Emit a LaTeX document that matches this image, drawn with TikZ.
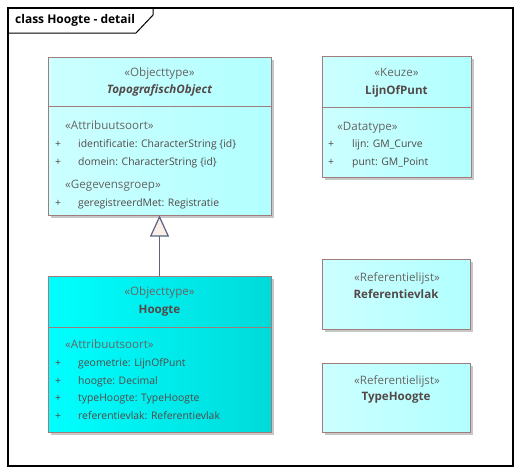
\documentclass[tikz,border=0pt]{standalone}
\usepackage{fontspec}
\setmainfont{Open Sans}
\usetikzlibrary{shadows,arrows.meta,positioning,calc}
\definecolor{boxline}{RGB}{160,124,124}
\definecolor{genline}{RGB}{90,100,128}
\definecolor{txtdark}{RGB}{84,72,72}
\definecolor{txtster}{RGB}{104,100,100}
\definecolor{lightcyan}{RGB}{204,255,255}
\definecolor{lightcyanr}{RGB}{178,255,255}
\definecolor{cyanl}{RGB}{0,255,255}
\definecolor{cyanr}{RGB}{0,218,218}
\definecolor{tipfill}{RGB}{250,238,232}

\begin{document}
\begin{tikzpicture}
[x=1pt,y=-1pt,font=\fontsize{10.4}{13}\selectfont,
    cls/.style={draw=boxline,line width=1pt,inner sep=0pt,
    left color=lightcyan,right color=lightcyanr,
    drop shadow={opacity=1,fill=black!22,shadow xshift=3pt,shadow yshift=-3pt}},
    clsdark/.style={cls,left color=cyanl,right color=cyanr},
    stereo/.style={text=txtster,inner sep=0pt,font=\fontsize{11.6}{14}\selectfont,
    text height=9pt,text depth=3pt},
    cname/.style={text=txtdark,inner sep=0pt,font=\fontsize{11.6}{14}\selectfont\bfseries,
    text height=9pt,text depth=3pt},
    attr/.style={anchor=west,text=txtdark,inner sep=0pt,text height=9pt,text depth=3pt},
    sep/.style={draw=boxline,line width=1pt},
    gen/.style={draw=genline,line width=1.2pt,
    -{Triangle[length=21pt,width=19pt,fill=tipfill]}}]
\useasboundingbox (0,0) rectangle (521,475);
%%%%%%%%%%
%% frame
\draw[line width=1.2pt] (8,8) rectangle (513,466);
\draw[line width=1pt] (8,33) -- (136,33) -- (153,15) -- (153,8);
\node (title) [anchor=west,inner sep=0pt,font=\fontsize{12}{14}\selectfont\bfseries]
at (15,20) {class Hoogte - detail};
%% boxes
\node (topo) [cls,minimum width=223pt,minimum height=158pt] at (159.5,136) {};
\node (hoogte) [clsdark,minimum width=223pt,minimum height=156pt] at (159.5,354) {};
\node (lijn) [cls,minimum width=149pt,minimum height=121pt] at (396.5,116.5) {};
\node (refvlak) [cls,minimum width=148pt,minimum height=70pt] at (396,294) {};
\node (typeh) [cls,minimum width=148pt,minimum height=69pt] at (396,397.5) {};
%% compartments
\draw[sep] (topo.west |- 0,106) -- (topo.east |- 0,106);
\draw[sep] (hoogte.west |- 0,327) -- (hoogte.east |- 0,327);
\draw[sep] (lijn.west |- 0,107) -- (lijn.east |- 0,107);
%% TopografischObject
\node (topost) [stereo] at (159.5,73) {«Objecttype»};
\node (toponame) [cname,font=\fontsize{11.6}{14}\selectfont\bfseries\itshape] at (159.5,90) {TopografischObject};
\node (topoas) [attr,stereo] at (65,126) {«Attribuutsoort»};
\node (topop1) [attr] at (55,144) {+};
\node (topoa1) [attr] at (78,144) {identificatie: CharacterString \{id\}};
\node (topop2) [attr] at (55,162) {+};
\node (topoa2) [attr] at (78,162) {domein: CharacterString \{id\}};
\node (topogg) [attr,stereo] at (65,185) {«Gegevensgroep»};
\node (topop3) [attr] at (55,203) {+};
\node (topoa3) [attr] at (78,203) {geregistreerdMet: Registratie};
%% Hoogte
\node (hoogtest) [stereo] at (159.5,292) {«Objecttype»};
\node (hoogtename) [cname] at (159.5,310) {Hoogte};
\node (hoogteas) [attr,stereo] at (65,345) {«Attribuutsoort»};
\node (hoogtep1) [attr] at (55,363) {+};
\node (hoogtea1) [attr] at (78,363) {geometrie: LijnOfPunt};
\node (hoogtep2) [attr] at (55,381) {+};
\node (hoogtea2) [attr] at (78,381) {hoogte: Decimal};
\node (hoogtep3) [attr] at (55,398) {+};
\node (hoogtea3) [attr] at (78,398) {typeHoogte: TypeHoogte};
\node (hoogtep4) [attr] at (55,416) {+};
\node (hoogtea4) [attr] at (78,416) {referentievlak: Referentievlak};
%% LijnOfPunt
\node (lijnst) [stereo] at (396.5,73) {«Keuze»};
\node (lijnname) [cname] at (396.5,91) {LijnOfPunt};
\node (lijndt) [attr,stereo] at (337,127) {«Datatype»};
\node (lijnp1) [attr] at (328,144) {+};
\node (lijna1) [attr] at (352,144) {lijn: GM\_Curve};
\node (lijnp2) [attr] at (328,162) {+};
\node (lijna2) [attr] at (352,162) {punt: GM\_Point};
%% referentielijsten
\node (refvlakst) [stereo] at (397,278) {«Referentielijst»};
\node (refvlakname) [cname] at (396,295) {Referentievlak};
\node (typehst) [stereo] at (397,381) {«Referentielijst»};
\node (typehname) [cname] at (396,397) {TypeHoogte};
%% generalization
\draw[gen] (hoogte.north) -- (topo.south);
\end{tikzpicture}
\end{document}
